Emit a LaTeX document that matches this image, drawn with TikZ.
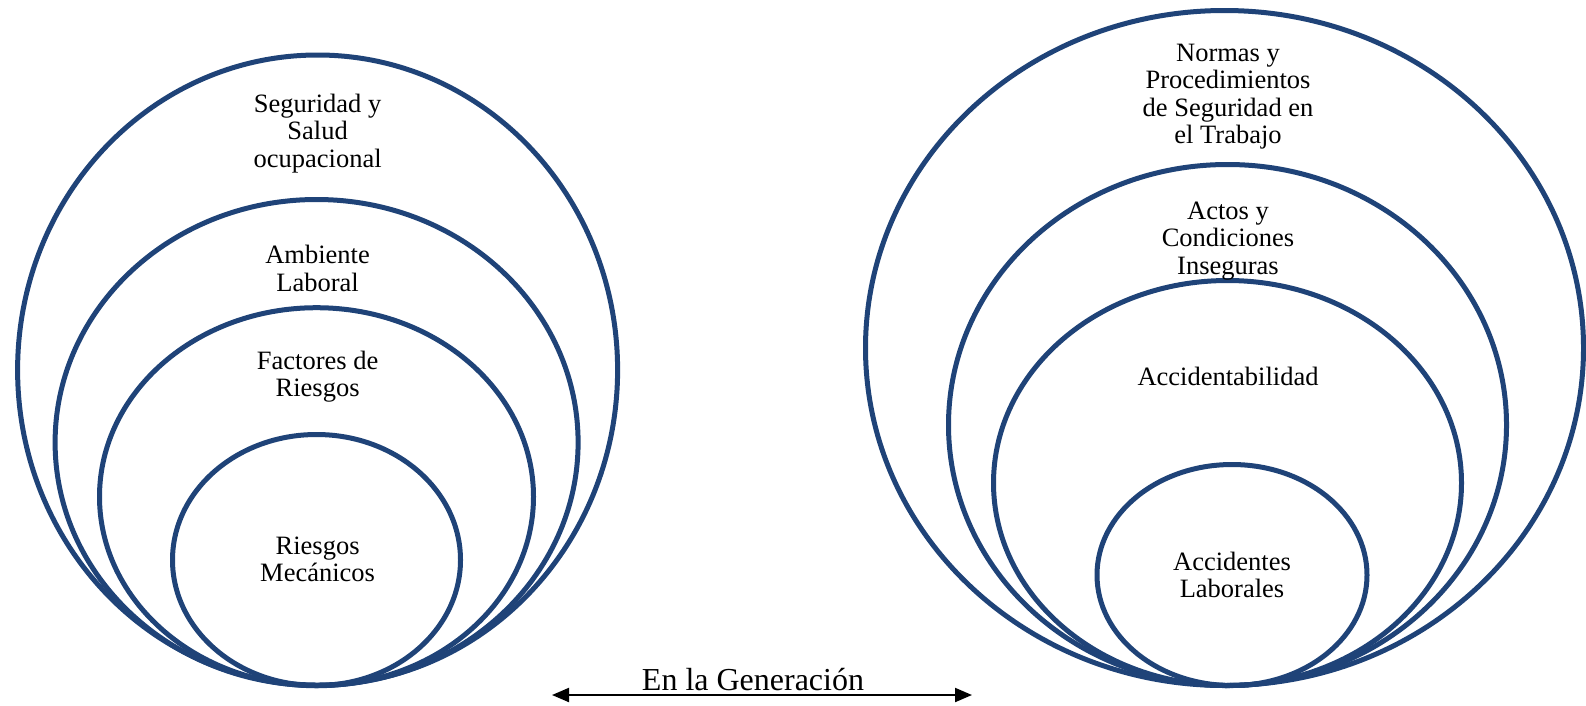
\documentclass[tikz,border=0pt]{standalone}
\usepackage{fontspec}
\setmainfont{Liberation Serif}
\usetikzlibrary{
    arrows.meta,
    shapes.geometric
}
\definecolor{ringblue}{RGB}{31,67,120}

\begin{document}
\begin{tikzpicture}[
    x=1pt, y=-1pt,
    ring/.style={ellipse, draw=ringblue, line width=5pt, inner sep=0pt},
    ringtext/.style={align=center, inner sep=0pt, font=\fontsize{26.5}{27.3}\selectfont},
    genarrow/.style={line width=2pt, {Triangle[length=17pt,width=14pt]}-{Triangle[length=17pt,width=14pt]}}
]
\useasboundingbox (0,0) rectangle (1586,705);

% Left rings
\node[ring, minimum width=600pt, minimum height=630pt] (seguridad) at (317.6,370) {};
\node[ring, minimum width=523pt, minimum height=486pt] (ambiente) at (316.6,442.5) {};
\node[ring, minimum width=434pt, minimum height=378pt] (factores) at (316.5,496.7) {};
\node[ring, minimum width=288pt, minimum height=251pt] (mecanicos) at (316.5,560) {};

% Left texts
\node[ringtext] (seguridadText) at (317.6,133.5) {Seguridad y\\Salud\\ocupacional};
\node[ringtext] (ambienteText) at (317.6,268.5) {Ambiente\\Laboral};
\node[ringtext] (factoresText) at (317.6,377) {Factores de\\Riesgos};
\node[ringtext] (mecanicosText) at (317.6,559.5) {Riesgos\\Mecánicos};

% Right rings
\node[ring, minimum width=718pt, minimum height=675pt] (normas) at (1224.5,348) {};
\node[ring, minimum width=558pt, minimum height=521pt] (actos) at (1227.5,425) {};
\node[ring, minimum width=468pt, minimum height=405pt] (accidentabilidad) at (1227.5,483) {};
\node[ring, minimum width=270pt, minimum height=221pt] (accidentes) at (1232,575) {};

% Right texts
\node[ringtext] (normasText) at (1228,96.5) {Normas y\\Procedimientos\\de Seguridad en\\el Trabajo};
\node[ringtext] (actosText) at (1228,241) {Actos y\\Condiciones\\Inseguras};
\node[ringtext] (accidentabilidadText) at (1228,376) {Accidentabilidad};
\node[ringtext] (accidentesText) at (1232,575) {Accidentes\\Laborales};

% Generation arrow
\coordinate (genLeft) at (552,695);
\coordinate (genRight) at (972,695);
\draw[genarrow] (genLeft) -- (genRight);
\node[anchor=base, inner sep=0pt, font=\fontsize{32}{38}\selectfont] (genText) at (753,690) {En la Generación};
\end{tikzpicture}
\end{document}
